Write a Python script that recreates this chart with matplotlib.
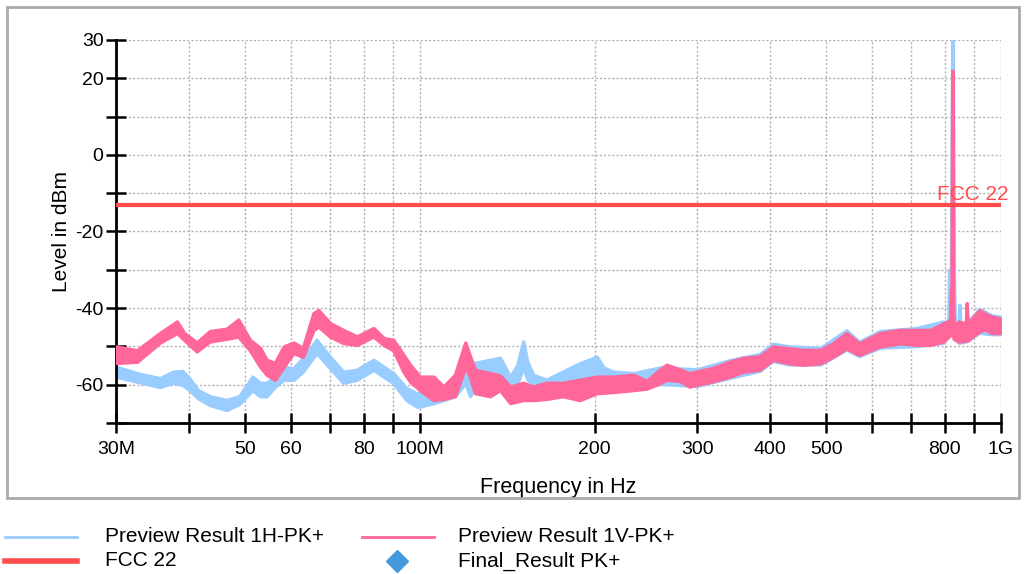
import matplotlib
matplotlib.use("Agg")
import matplotlib.pyplot as plt
from matplotlib.lines import Line2D
from matplotlib.patches import Rectangle
from matplotlib.ticker import FixedLocator, FixedFormatter, NullLocator

plt.rcParams['font.family'] = ['Liberation Sans', 'DejaVu Sans']

# Preview Result 1H-PK+ : frequency (MHz), lower / upper edge of the peak trace (dBm)
h_freq = [30, 32.6, 35.7, 37.6, 39, 40.2, 41.5, 43.5, 46.5, 48.9, 51.5, 53.1, 54.5, 56.3, 58.3,
          60.6, 62.9, 66.4, 70, 73.8, 77.9, 83.2, 90, 94.8, 98.7, 100, 105.5, 109.8, 114.9,
          119.7, 122, 124.4, 132, 137.4, 143, 147, 150.6, 153, 156.6, 165, 176, 188.5, 201.6, 207,
          215, 233, 259, 300, 341, 384, 405, 432, 489, 542, 570, 619, 716, 796, 812, 814, 820, 824.5,
          825.5, 830, 833, 845, 848, 851, 870, 900, 918, 963, 1000]
h_low = [-57.9, -59.2, -60.6, -59.5, -60, -61.5, -63.5, -65.3, -66.6, -65, -61.4, -63, -63, -60.5, -58.7,
         -58.7, -56.6, -51.7, -55.6, -59.5, -58.7, -56.1, -59.6, -64, -65.7, -65.7, -64.8, -64, -63,
         -59.5, -63, -60.5, -58.7, -58.7, -62.2, -60, -55.3, -58.5, -60.5, -61.4, -60.5, -59.6, -57.9, -59,
         -60.5, -60.5, -59.8, -60.3, -58.2, -56.4, -53.8, -54.7, -54.7, -50.8, -52.5, -50.3, -49.9, -49, -47,
         -47, -47, -47, -47, -47, -48, -49, -49, -49, -48.7, -47.3, -46.4, -46.8, -46.8]
h_high = [-55.3, -57, -58.3, -56.6, -56.4, -58.5, -61.4, -63, -64, -63, -57.9, -59.5, -59.5, -57.9, -55.3,
          -55.7, -53, -48.3, -52.7, -56.6, -56.1, -53.5, -57, -60.9, -62.2, -62.2, -61.4, -60.5, -59.5,
          -55.3, -58, -54.3, -53.5, -53, -57.9, -55, -48.7, -54, -57.4, -58.7, -56.6, -54.4, -52.7, -55.5,
          -56.6, -57, -55.5, -56, -53.6, -52, -49.3, -50, -50.4, -45.8, -48.8, -46, -45.2, -43.5, -44,
          -30, -32, 31, 31, -31.5, -45, -44, -39.2, -44, -44, -41.7, -40.2, -41.9, -42.3]

# Preview Result 1V-PK+
v_freq = [30, 32.6, 35.7, 38.2, 39.3, 41.3, 43.5, 46.5, 48.7, 51, 53.1, 54.5, 56.3, 58.3,
          60.6, 62.9, 65.6, 66.9, 70, 73.8, 77.9, 83.2, 86.6, 90, 93.7, 96.2, 100, 105.5, 109.8,
          114.9, 119.7, 122, 124.4, 132, 137.4, 143, 150.6, 156.6, 165, 176, 188.5, 201.6, 215,
          233, 245.7, 259, 265.7, 280, 291, 300, 318, 341, 360, 384, 405, 432, 456, 489, 514, 542,
          570, 619, 669, 716, 756, 796, 818, 820, 822, 824.5, 825.5, 827, 829, 845, 870, 873, 876,
          900, 918, 940, 963, 1000]
v_low = [-54.3, -54, -49, -46.5, -48.3, -51.3, -48.7, -48, -47.4, -51, -55.3, -57.4, -58.7, -55.3,
         -51.7, -52.7, -45.7, -44.8, -47.4, -49.1, -49.6, -47.4, -49.6, -51, -56.6, -59.2, -61.4, -64, -63.7,
         -63, -55.3, -57.9, -62.2, -63, -61.4, -64.8, -64, -64, -63.7, -63, -64, -62.2, -61.9,
         -61.4, -61, -59.6, -58.7, -59, -60.5, -60, -59.2, -57.9, -56.6, -56.1, -53.5, -54.4, -54.8, -54.4,
         -52.7, -50.5, -52.2, -50, -49.2, -49.6, -49.6, -48.7, -47, -47, -46, -46, -46, -47, -48, -48.7,
         -48.5, -48.3, -48.5, -47, -46.1, -45.5, -46.5, -46.5]
v_high = [-50, -51, -46.5, -43.5, -46.5, -49, -46, -45.4, -43, -48.3, -50.4, -53.5, -54.3, -50,
          -49, -50.4, -41.3, -40.5, -43.9, -45.7, -47.4, -45.2, -47.8, -48.3, -52.2, -54.8, -57.9, -57.9, -60.5,
          -57.4, -49, -52.6, -56.1, -57, -57.6, -60.5, -59.5, -60.5, -59.5, -59.5, -58.7, -57.9, -57.9,
          -57.4, -59, -56, -54.8, -56, -57, -56.5, -55.7, -54, -53, -52.6, -50, -50.5, -50.9, -50.9, -49.2,
          -46.5, -49.2, -46.5, -45.7, -45.7, -45.7, -44, -43, -35, -35, 22, 22, -37, -45, -43.5, -44, -38.7,
          -44, -42, -40.5, -41.5, -42.2, -42.8]

# FCC 22 limit line
limit_freq = [30, 1000]
limit_level = [-13, -13]

# Final_Result PK+ (no final measurements in this run)
final_freq = []
final_level = []

x_ticks = [30, 40, 50, 60, 70, 80, 90, 100, 200, 300, 400, 500, 600, 700, 800, 900, 1000]
x_tick_labels = ['30M', '', '50', '60', '', '80', '', '100M', '200', '300', '400', '500', '', '', '800', '', '1G']
y_ticks = [-70, -60, -50, -40, -30, -20, -10, 0, 10, 20, 30]
y_tick_labels = ['', '-60', '', '-40', '', '-20', '', '0', '', '20', '30']

blue = '#99ccff'
pink = '#ff6699'
red = '#ff4d4d'
diamond = '#4499dd'

fig = plt.figure(figsize=(10.26, 5.74), dpi=100)
ax = fig.add_axes([116 / 1026, 1 - 423 / 574, 885 / 1026, 383 / 574])

ax.fill_between(h_freq, h_low, h_high, color=blue, lw=2.5, zorder=2)
ax.fill_between(v_freq, v_low, v_high, color=pink, lw=2.5, zorder=3)
ax.plot(limit_freq, limit_level, color=red, lw=3, zorder=4)
ax.plot(final_freq, final_level, 'D', color=diamond, zorder=5)
ax.text(0.968, limit_level[-1] + 0.3, 'FCC 22', color=red, fontsize=15, ha='center', va='bottom',
        transform=ax.get_yaxis_transform(), clip_on=False, zorder=6)

ax.set_xscale('log')
ax.set_xlim(30, 1000)
ax.set_ylim(-70, 30)
ax.xaxis.set_major_locator(FixedLocator(x_ticks))
ax.xaxis.set_major_formatter(FixedFormatter(x_tick_labels))
ax.xaxis.set_minor_locator(NullLocator())
ax.set_yticks(y_ticks)
ax.set_yticklabels(y_tick_labels)

ax.grid(True, color='#b0b0b0', linestyle=(0, (1.5, 1.5)), linewidth=1)
ax.set_axisbelow(True)
for side in ['top', 'right']:
    ax.spines[side].set_visible(False)
for side in ['left', 'bottom']:
    ax.spines[side].set_linewidth(2)
ax.tick_params(direction='inout', length=14, width=1.8, labelsize=14, colors='black', pad=2)
ax.tick_params(axis='x', pad=6)

ax.set_xlabel('Frequency in Hz', fontsize=15.5, labelpad=14)
ax.set_ylabel('Level in dBm', fontsize=15, labelpad=3)

# outer chart frame
fig.add_artist(Rectangle((7 / 1026, 1 - 498 / 574), 1012 / 1026, 491 / 574,
                         transform=fig.transFigure, fill=False, edgecolor='#aaaaaa', lw=2))

# legend rows under the chart
def legend_line(x0, y, color, lw):
    fig.add_artist(Line2D([x0 / 1026, (x0 + 72) / 1026], [1 - y / 574, 1 - y / 574],
                          color=color, lw=lw, transform=fig.transFigure))

legend_line(5, 537, blue, 2)
fig.text(105 / 1026, 1 - 537 / 574, 'Preview Result 1H-PK+', fontsize=15, va='center')
legend_line(362, 537, pink, 2)
fig.text(458 / 1026, 1 - 537 / 574, 'Preview Result 1V-PK+', fontsize=15, va='center')
legend_line(5, 561, red, 4)
fig.text(105 / 1026, 1 - 561 / 574, 'FCC 22', fontsize=15, va='center')
fig.add_artist(Line2D([397 / 1026], [1 - 561 / 574], marker='D', markersize=11,
                      color=diamond, transform=fig.transFigure))
fig.text(458 / 1026, 1 - 561 / 574, 'Final_Result PK+', fontsize=15, va='center')

fig.savefig('out.png', dpi=100)
